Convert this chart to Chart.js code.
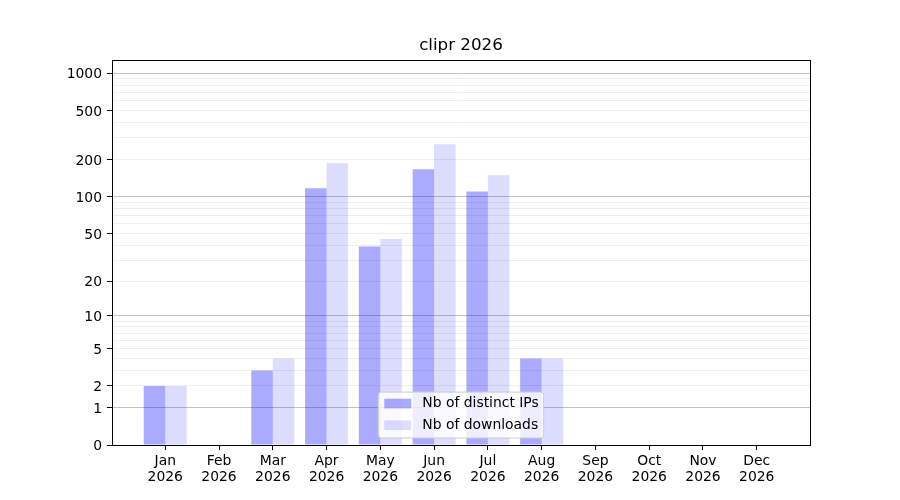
<!DOCTYPE html>
<html>
<head>
<meta charset="utf-8">
<script src="https://cdn.jsdelivr.net/npm/chart.js@4/dist/chart.umd.min.js"></script>
<style>
  html, body { margin: 0; padding: 0; background: #fff; }
  #wrap { width: 900px; height: 500px; }
</style>
</head>
<body>
<div id="wrap"><canvas id="myChart"></canvas></div>
<script>
const months = ['Jan', 'Feb', 'Mar', 'Apr', 'May', 'Jun', 'Jul', 'Aug', 'Sep', 'Oct', 'Nov', 'Dec'];
const year = '2026';
const distinctIPs = [2, 0, 3, 117, 39, 167, 110, 4, 0, 0, 0, 0];
const downloads = [2, 0, 4, 187, 45, 266, 149, 4, 0, 0, 0, 0];
const yLabelTicks = [0, 1, 2, 5, 10, 20, 50, 100, 200, 500, 1000];
const yMajorGrid = [1, 10, 100, 1000];
const yMinorGrid = [2, 3, 4, 5, 6, 7, 8, 9, 20, 30, 40, 50, 60, 70, 80, 90, 200, 300, 400, 500, 600, 700, 800, 900];

const FONT = 'DejaVu Sans';
const FS = 13.9;

// y scale where position follows log10(1 + value)
class Log1pScale extends Chart.Scale {
  static id = 'log1p';
  static defaults = {};

  determineDataLimits() {
    this.min = this.options.min ?? 0;
    this.max = this.options.max ?? 1000;
  }
  buildTicks() {
    const all = [0, ...yMajorGrid, ...yMinorGrid].sort((a, b) => a - b);
    return all.map(v => ({ value: v }));
  }
  configure() {
    super.configure();
    this._tmin = Math.log10(1 + this.min);
    this._tmax = Math.log10(1 + this.max);
  }
  getLabelForValue(v) { return String(v); }
  getPixelForValue(v) {
    const t = Math.log10(1 + Math.max(v, 0));
    return this.getPixelForDecimal((t - this._tmin) / (this._tmax - this._tmin));
  }
  getValueForPixel(p) {
    const t = this._tmin + this.getDecimalForPixel(p) * (this._tmax - this._tmin);
    return Math.pow(10, t) - 1;
  }
}
Chart.register(Log1pScale);

// title centred over the axes, not the whole canvas
const centerTitle = {
  id: 'centerTitle',
  afterLayout(chart) {
    const t = chart.titleBlock;
    if (!t) return;
    t.left = chart.chartArea.left;
    t.right = chart.chartArea.right;
    t.width = t.right - t.left;
  }
};

const frame = {
  id: 'frame',
  afterDatasetsDraw(chart) {
    const { ctx, chartArea: a } = chart;
    ctx.save();
    ctx.strokeStyle = '#000';
    ctx.lineWidth = 1;
    ctx.strokeRect(Math.round(a.left) + 0.5, Math.round(a.top) + 0.5, Math.round(a.right - a.left), Math.round(a.bottom - a.top));
    ctx.restore();
  }
};

// legend box inside the axes, lower center
const innerLegend = {
  id: 'innerLegend',
  afterDraw(chart) {
    const { ctx, chartArea: a } = chart;
    const sets = chart.data.datasets;
    ctx.save();
    ctx.font = FS + 'px "' + FONT + '"';
    const textW = Math.max(...sets.map(d => ctx.measureText(d.label).width));
    const w = 6 + 27 + 11 + textW + 5;
    const rowH = 21.7;
    const h = 2.5 + rowH * sets.length;
    const x = (a.left + a.right) / 2 - w / 2;
    const y = a.bottom - 7 - h;
    ctx.beginPath();
    ctx.roundRect(x, y, w, h, 3);
    ctx.fillStyle = 'rgba(255,255,255,0.8)';
    ctx.fill();
    ctx.strokeStyle = '#cccccc';
    ctx.lineWidth = 1;
    ctx.stroke();
    sets.forEach((d, i) => {
      const cy = y + 11.6 + i * rowH;
      ctx.fillStyle = d.backgroundColor;
      ctx.fillRect(x + 6, cy - 5, 27, 9.7);
      ctx.fillStyle = '#000';
      ctx.textBaseline = 'middle';
      ctx.textAlign = 'left';
      ctx.fillText(d.label, x + 6 + 27 + 11, cy);
    });
    ctx.restore();
  }
};

const chart = new Chart(document.getElementById('myChart'), {
  type: 'bar',
  data: {
    datasets: [
      {
        label: 'Nb of distinct IPs',
        data: distinctIPs.map((v, i) => ({ x: i, y: v })),
        backgroundColor: 'rgba(0,0,255,0.333)',
        borderWidth: 0
      },
      {
        label: 'Nb of downloads',
        data: downloads.map((v, i) => ({ x: i, y: v })),
        backgroundColor: 'rgba(0,0,255,0.133)',
        borderWidth: 0
      }
    ]
  },
  options: {
    responsive: true,
    maintainAspectRatio: false,
    animation: false,
    categoryPercentage: 0.8,
    barPercentage: 1.0,
    layout: { padding: { left: 0, right: 90, top: 0, bottom: 0 } },
    plugins: {
      legend: { display: false },
      tooltip: { enabled: false },
      title: {
        display: true,
        text: 'clipr ' + year,
        color: '#000',
        font: { family: FONT, size: 16.7, weight: 'normal' },
        padding: { top: 36, bottom: 4 }
      }
    },
    scales: {
      x: {
        type: 'linear',
        min: -0.99,
        max: 11.99,
        offset: false,
        grid: { display: true, drawOnChartArea: false, offset: false, tickLength: 5, tickColor: '#000', tickWidth: 1 },
        border: { display: true, color: '#000', width: 1 },
        afterBuildTicks: s => { s.ticks = months.map((m, i) => ({ value: i })); },
        afterFit: s => { s.height = 55; },
        ticks: {
          autoSkip: false,
          maxRotation: 0,
          padding: 4,
          color: '#000',
          font: { family: FONT, size: FS, lineHeight: 1.1 },
          callback: v => [months[v], year]
        }
      },
      y: {
        type: 'log1p',
        min: 0,
        max: 1278,
        grid: {
          display: true,
          drawOnChartArea: true,
          tickLength: 5,
          lineWidth: 1,
          color: c => yMajorGrid.includes(c.tick.value) ? 'rgba(0,0,0,0.24)' : (c.tick.value === 0 ? 'rgba(0,0,0,0)' : 'rgba(0,0,0,0.07)'),
          tickColor: c => yLabelTicks.includes(c.tick.value) ? '#000' : 'rgba(0,0,0,0)'
        },
        border: { display: true, color: '#000', width: 1 },
        afterFit: s => { s.width = 112; },
        ticks: {
          autoSkip: false,
          padding: 5,
          labelOffset: 1.5,
          color: '#000',
          font: { family: FONT, size: FS },
          callback: v => yLabelTicks.includes(v) ? String(v) : ''
        }
      }
    }
  },
  plugins: [centerTitle, frame, innerLegend]
});
</script>
</body>
</html>
